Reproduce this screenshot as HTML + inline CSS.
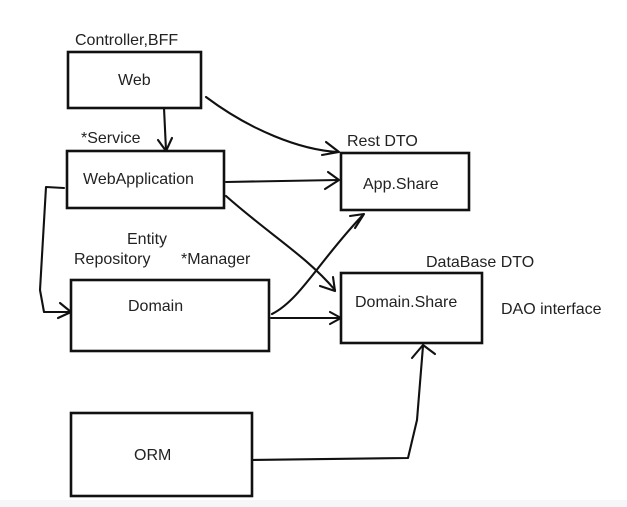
<!DOCTYPE html>
<html><head><meta charset="utf-8"><style>
html,body{margin:0;padding:0;background:#fff;}
svg{display:block;}
text{font-family:"Liberation Sans",sans-serif;fill:#222;}
</style></head><body>
<svg width="627" height="507" viewBox="0 0 627 507" xmlns="http://www.w3.org/2000/svg">
<rect width="627" height="507" fill="#fff"/>
<rect y="500" width="627" height="7" fill="#f5f6f7"/>
<g fill="none" stroke="#111" stroke-width="2.6">
<rect x="68" y="52" width="133" height="56"/>
<rect x="67" y="151" width="157" height="57"/>
<rect x="71" y="280" width="198" height="71"/>
<rect x="71" y="413" width="181" height="83"/>
<rect x="341" y="153" width="128" height="57"/>
<rect x="341" y="273" width="141" height="70"/>
</g>
<g fill="none" stroke="#111" stroke-width="2.1" stroke-linecap="round" stroke-linejoin="round">
<path d="M206 97 C250 130 300 150 338 152"/>
<path d="M326 142 L339 152 L322 155"/>
<path d="M164 108 L166 150"/>
<path d="M158 140 L166 151 L172 138"/>
<path d="M226 182 L338 180"/>
<path d="M328 172 L339 180 L325 189"/>
<path d="M226 196 C270 235 305 255 335 290"/>
<path d="M320 286 L335 291 L333 277"/>
<path d="M64 188 L46 187 L40 290 L44 312 L70 312"/>
<path d="M60 303 L71 312 L58 318"/>
<path d="M271 318 L341 318"/>
<path d="M330 312 L341 318 L330 324"/>
<path d="M272 314 C300 300 320 260 362 216"/>
<path d="M350 216 L364 214 L355 228"/>
<path d="M253 460 L408 458 L417 420 L423 346"/>
<path d="M412 358 L423 345 L435 354"/>
</g>
<g font-size="16">
<text x="75" y="45">Controller,BFF</text>
<text x="118" y="85">Web</text>
<text x="81" y="143">*Service</text>
<text x="83" y="184">WebApplication</text>
<text x="127" y="244">Entity</text>
<text x="74" y="264">Repository</text>
<text x="181" y="264">*Manager</text>
<text x="128" y="311">Domain</text>
<text x="134" y="460">ORM</text>
<text x="347" y="146">Rest DTO</text>
<text x="363" y="189">App.Share</text>
<text x="426" y="267">DataBase DTO</text>
<text x="355" y="307">Domain.Share</text>
<text x="501" y="314">DAO interface</text>
</g>
</svg>
</body></html>
